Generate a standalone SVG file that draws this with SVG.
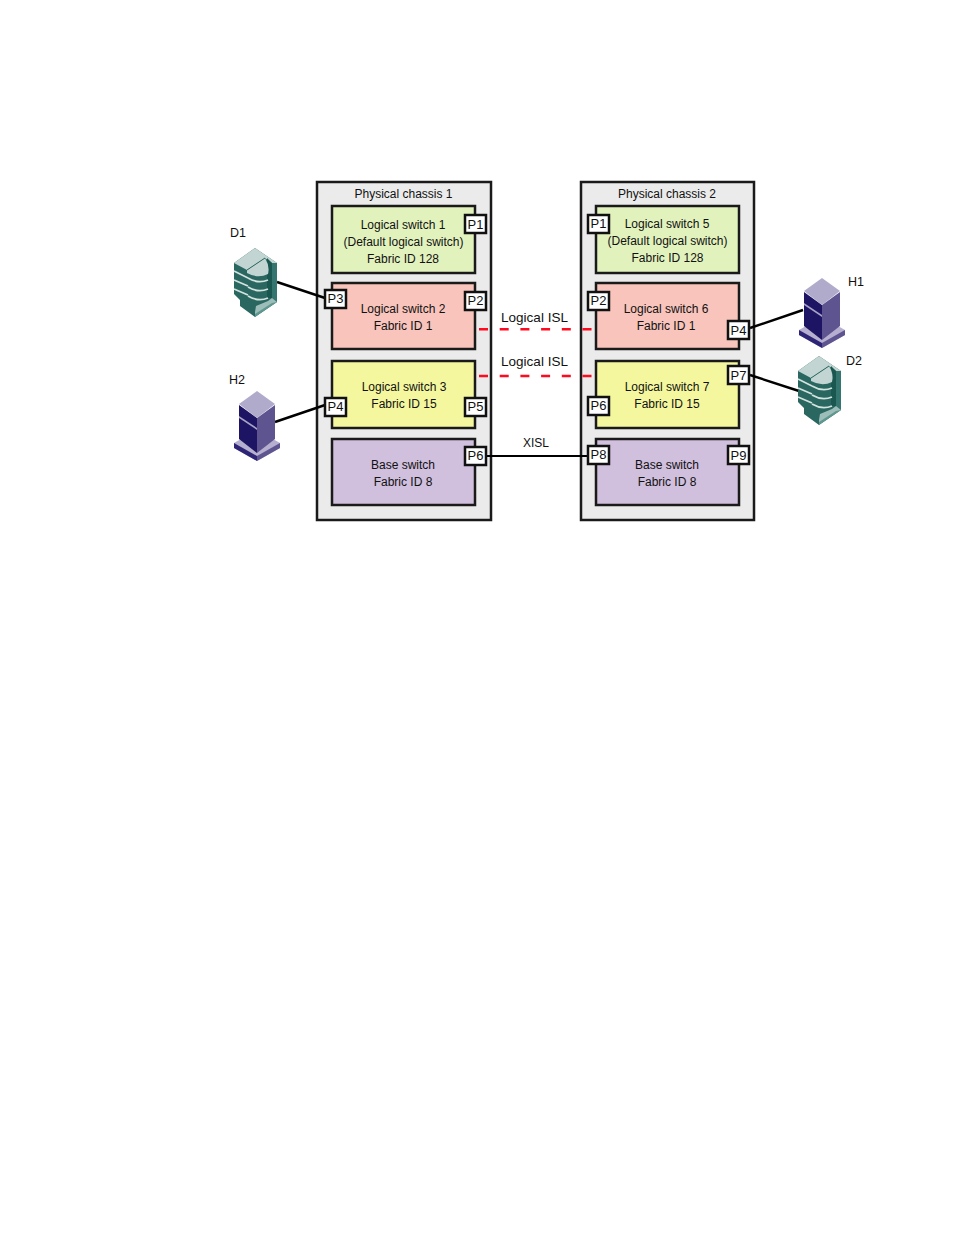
<svg xmlns="http://www.w3.org/2000/svg" xmlns:xlink="http://www.w3.org/1999/xlink" width="954" height="1235" viewBox="0 0 954 1235">
<style>
text{font-family:"Liberation Sans",Arial,sans-serif;font-size:12px;fill:#111}
.m{text-anchor:middle}
.big{font-size:13.500px}
.lbl{font-size:12.500px}
.pt{font-size:13px}
.chassis{fill:#ebebeb;stroke:#1a1a1a;stroke-width:2.500}
.sw{stroke:#1a1a1a;stroke-width:2.500}
.green{fill:#e2f2bd}.pink{fill:#f8c4bc}.yellow{fill:#f4f79e}.purple{fill:#d0bfdd}
.port{fill:#fff;stroke:#111;stroke-width:2.500}
.link{stroke:#000;stroke-width:2.400;fill:none}
.isl{stroke:#ff0a1e;stroke-width:2.400;stroke-dasharray:9 11.700;fill:none}
.band{stroke:#d2e2de;stroke-width:1.800;fill:none}
</style>
<defs>
<symbol id="disk" width="43" height="69" viewBox="0 0 43 69" overflow="visible">
<!-- outer casing -->
<polygon points="21,0 43,15 43,54 21,69 6,58 6,52 0,46 0,15" fill="#2a6761"/>
<!-- top face -->
<polygon points="21,0 43,15 38,15 31,10 13,22 0,15" fill="#c3d5d2"/>
<!-- right-hand wall and slot -->
<polygon points="38,15 43,15 43,54 38,50" fill="#357570"/>
<polygon points="33,10 38,15 38,50 33,50" fill="#1b5751"/>
<!-- left platter edges -->
<path class="band" d="M0,23 L14,30 M0,32 L14,38 M0,41 L14,47"/>
<!-- platter stack, front half -->
<path d="M13,22 L31,10 Q36,18 34,26 Q24,31 13,25Z" fill="#c3d5d2"/>
<path d="M13,22 L31,10" stroke="#2a6761" stroke-width="1" fill="none"/>
<path class="band" d="M14,30 Q24,36 34,32 M14,39 Q24,45 34,41 M14,48 Q24,54 34,50"/>
<!-- floor of the bay -->
<polygon points="22,58 34,53 38,50 43,54 21,67 21,64" fill="#9dbdb8"/>
<polygon points="43,54 21,69 21,66 38,55" fill="#5e9891"/>
</symbol>
<symbol id="host" width="46" height="70" viewBox="0 0 46 70" overflow="visible">
<polygon points="0,52 23,39 46,52 46,57 23,70 0,57" fill="#b6afcf"/>
<polygon points="0,52 23,65 23,70 0,57" fill="#2d2476"/>
<polygon points="46,52 23,65 23,70 46,57" fill="#5e5490"/>
<polygon points="5,14 23,27 23,62 5,48" fill="#1d1464"/>
<polygon points="41,14 23,27 23,62 41,48" fill="#5e5490"/>
<polygon points="23,0 41,13 23,27 5,13" fill="#b0abca"/>
<polygon points="5,25 23,37 23,39 5,27" fill="#a9a4c6"/>
</symbol>
</defs>

<g id="chassis-1">
<rect class="chassis" x="317" y="182" width="174" height="338"/>
<text class="m" x="403.500" y="198">Physical chassis 1</text>
</g>
<g id="chassis-2">
<rect class="chassis" x="581" y="182" width="173" height="338"/>
<text class="m" x="667" y="198">Physical chassis 2</text>
</g>

<g id="logical-switch-1">
<rect class="sw green" x="332" y="206" width="143" height="67"/>
<text class="m" x="403" y="229">Logical switch 1</text>
<text class="m" x="403.500" y="246">(Default logical switch)</text>
<text class="m" x="403" y="263">Fabric ID 128</text>
</g>
<g id="logical-switch-2">
<rect class="sw pink" x="332" y="283" width="143" height="66"/>
<text class="m" x="403" y="313">Logical switch 2</text>
<text class="m" x="403" y="330">Fabric ID 1</text>
</g>
<g id="logical-switch-3">
<rect class="sw yellow" x="332" y="361" width="143" height="67"/>
<text class="m" x="404" y="391">Logical switch 3</text>
<text class="m" x="404" y="408">Fabric ID 15</text>
</g>
<g id="base-switch-1">
<rect class="sw purple" x="332" y="439" width="143" height="66"/>
<text class="m" x="403" y="469">Base switch</text>
<text class="m" x="403" y="486">Fabric ID 8</text>
</g>
<g id="logical-switch-5">
<rect class="sw green" x="596" y="206" width="143" height="67"/>
<text class="m" x="667" y="228">Logical switch 5</text>
<text class="m" x="667.500" y="245">(Default logical switch)</text>
<text class="m" x="667.500" y="262">Fabric ID 128</text>
</g>
<g id="logical-switch-6">
<rect class="sw pink" x="596" y="283" width="143" height="66"/>
<text class="m" x="666" y="313">Logical switch 6</text>
<text class="m" x="666" y="330">Fabric ID 1</text>
</g>
<g id="logical-switch-7">
<rect class="sw yellow" x="596" y="361" width="143" height="67"/>
<text class="m" x="667" y="391">Logical switch 7</text>
<text class="m" x="667" y="408">Fabric ID 15</text>
</g>
<g id="base-switch-2">
<rect class="sw purple" x="596" y="439" width="143" height="66"/>
<text class="m" x="667" y="469">Base switch</text>
<text class="m" x="667" y="486">Fabric ID 8</text>
</g>

<g id="connectors">
<path class="link" d="M277,282 L325,298"/>
<path class="link" d="M275,422 L325,405"/>
<path class="link" d="M750,328 L803,310"/>
<path class="link" d="M750,375 L799,391"/>
<path class="link" style="stroke-width:1.800" d="M487,456 L587,456"/>
<path class="isl" d="M479,329.300 L592,329.300"/>
<path class="isl" d="M479,376 L592,376"/>
<text class="m big" x="534.500" y="322">Logical ISL</text>
<text class="m big" x="534.500" y="366">Logical ISL</text>
<text class="m" x="536" y="447">XISL</text>
</g>

<g id="ports-chassis-1">
<g id="c1-p1"><rect class="port" x="465" y="215" width="21" height="18"/><text class="m pt" x="475.500" y="229">P1</text></g>
<g id="c1-p2"><rect class="port" x="465" y="292" width="21" height="18"/><text class="m pt" x="475.500" y="305">P2</text></g>
<g id="c1-p3"><rect class="port" x="325" y="290" width="21" height="18"/><text class="m pt" x="335.500" y="303">P3</text></g>
<g id="c1-p4"><rect class="port" x="325" y="398" width="21" height="18"/><text class="m pt" x="335.500" y="410.500">P4</text></g>
<g id="c1-p5"><rect class="port" x="465" y="398" width="21" height="18"/><text class="m pt" x="475.500" y="410.500">P5</text></g>
<g id="c1-p6"><rect class="port" x="465" y="447" width="21" height="18"/><text class="m pt" x="475.500" y="460">P6</text></g>
</g>
<g id="ports-chassis-2">
<g id="c2-p1"><rect class="port" x="588" y="215" width="21" height="18"/><text class="m pt" x="598.500" y="228">P1</text></g>
<g id="c2-p2"><rect class="port" x="588" y="292" width="21" height="18"/><text class="m pt" x="598.500" y="305">P2</text></g>
<g id="c2-p4"><rect class="port" x="728" y="321" width="21" height="18"/><text class="m pt" x="738.500" y="334.500">P4</text></g>
<g id="c2-p7"><rect class="port" x="728" y="366" width="21" height="18"/><text class="m pt" x="738.500" y="379.500">P7</text></g>
<g id="c2-p6"><rect class="port" x="588" y="397" width="21" height="18"/><text class="m pt" x="598.500" y="410">P6</text></g>
<g id="c2-p8"><rect class="port" x="588" y="446" width="21" height="18"/><text class="m pt" x="598.500" y="459">P8</text></g>
<g id="c2-p9"><rect class="port" x="728" y="446" width="21" height="18"/><text class="m pt" x="738.500" y="460">P9</text></g>
</g>

<g id="D1"><use xlink:href="#disk" href="#disk" x="234" y="248"/><text class="lbl" x="230" y="236.500">D1</text></g>
<g id="H2"><use xlink:href="#host" href="#host" x="234" y="391"/><text class="lbl" x="229" y="384">H2</text></g>
<g id="H1"><use xlink:href="#host" href="#host" x="799" y="278"/><text class="lbl" x="848" y="286">H1</text></g>
<g id="D2"><use xlink:href="#disk" href="#disk" x="798" y="356"/><text class="lbl" x="846" y="365">D2</text></g>
</svg>
